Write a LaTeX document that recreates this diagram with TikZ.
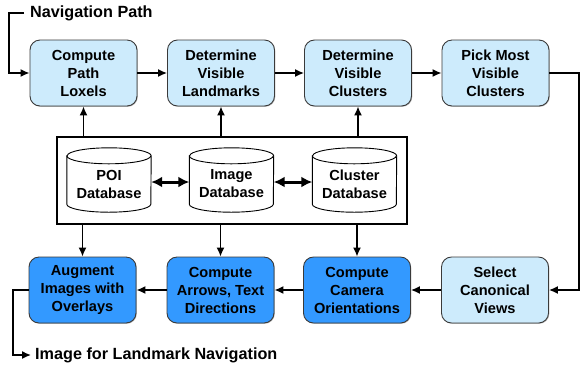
\documentclass[tikz,border=0pt]{standalone}
\usepackage{fontspec}
\setmainfont{Liberation Sans}
\usetikzlibrary{arrows.meta,shadows}
\definecolor{lightbox}{HTML}{CDEBFC}
\definecolor{darkbox}{HTML}{3399FF}
\definecolor{boxedge}{HTML}{3A3A3A}
\begin{document}
\begin{tikzpicture}[x=1pt,y=-1pt,
  proc/.style={draw=boxedge, line width=0.9pt, rounded corners=10pt,
    minimum width=107pt, minimum height=66pt, align=center, inner sep=1pt,
    font=\fontsize{14.6}{18}\selectfont\bfseries,
    drop shadow={shadow xshift=0.8pt, shadow yshift=-0.8pt, fill=black!45, opacity=0.6}},
  lightp/.style={proc, fill=lightbox},
  darkp/.style={proc, fill=darkbox},
  arr/.style={line width=1.5pt, -{Latex[length=9pt,width=8pt]}},
  dbarr/.style={line width=3pt, {Latex[length=11pt,width=11pt]}-{Latex[length=11pt,width=11pt]}},
  dbbox/.style={minimum width=84pt, minimum height=64pt, inner sep=0pt},
  dbtext/.style={align=center, inner sep=0pt, font=\fontsize{14.6}{18}\selectfont\bfseries},
  cyl/.style={draw, line width=0.9pt, fill=white},
  lbl/.style={inner sep=0pt, anchor=west, font=\fontsize{16.2}{19}\selectfont\bfseries}
]
\useasboundingbox (0,0) rectangle (580,368);

% top row
\node[lightp] (p1) at (83.5,73) {Compute\\Path\\Loxels};
\node[lightp] (p2) at (221,73) {Determine\\Visible\\Landmarks};
\node[lightp] (p3) at (358,73) {Determine\\Visible\\Clusters};
\node[lightp] (p4) at (495.5,73) {Pick Most\\Visible\\Clusters};

% bottom row
\node[darkp] (b4) at (82.5,290) {Augment\\Images with\\Overlays};
\node[darkp] (b3) at (220.5,290) {Compute\\Arrows, Text\\Directions};
\node[darkp] (b2) at (357,290) {Compute\\Camera\\Orientations};
\node[lightp] (b1) at (495,290) {Select\\Canonical\\Views};

% database container
\node[draw, line width=2pt, minimum width=350pt, minimum height=87pt, inner sep=0pt] (cont) at (232,180.5) {};

% cylinders
\foreach \n/\x in {db1/109, db2/231.5, db3/354.5}{
  \node[dbbox] (\n) at (\x,180) {};
  \draw[cyl] ([yshift=-8pt]\n.north west) -- ([yshift=8pt]\n.south west)
     arc[start angle=180, end angle=360, x radius=42pt, y radius=8pt]
     -- ([yshift=-8pt]\n.north east)
     arc[start angle=0, end angle=180, x radius=42pt, y radius=8pt] -- cycle;
  \draw[line width=0.9pt] ([yshift=-8pt]\n.north west)
     arc[start angle=180, end angle=360, x radius=42pt, y radius=8pt];
}
\node[dbtext] (db1t) at ([yshift=-4pt]db1.center) {POI\\Database};
\node[dbtext] (db2t) at ([yshift=-4pt]db2.center) {Image\\Database};
\node[dbtext] (db3t) at ([yshift=-4pt]db3.center) {Cluster\\Database};

\draw[dbarr] ([yshift=-2pt]db1.east) -- ([yshift=-2pt]db2.west);
\draw[dbarr] ([yshift=-2pt]db2.east) -- ([yshift=-2pt]db3.west);

% container to processes
\draw[arr] (p1.south |- cont.north) -- (p1.south);
\draw[arr] (p2.south |- cont.north) -- (p2.south);
\draw[arr] (p3.south |- cont.north) -- (p3.south);
\draw[arr] (b4.north |- cont.south) -- (b4.north);
\draw[arr] (b3.north |- cont.south) -- (b3.north);
\draw[arr] (b2.north |- cont.south) -- (b2.north);

% flow
\draw[arr] (p1) -- (p2);
\draw[arr] (p2) -- (p3);
\draw[arr] (p3) -- (p4);
\coordinate (rc) at (579,73);
\draw[arr] (p4.east) -- (rc) |- (b1.east);
\draw[arr] (b1) -- (b2);
\draw[arr] (b2) -- (b3);
\draw[arr] (b3) -- (b4);

% input
\node[lbl] (nav) at (30,13) {Navigation Path};
\coordinate (nav0) at (24,13);
\coordinate (nav1) at (9,13);
\draw[arr] (nav0) -- (nav1) |- (p1.west);

% output
\node[lbl] (out) at (35,355) {Image for Landmark Navigation};
\coordinate (out0) at (13,290);
\draw[arr] (b4.west) -- (out0) |- ([xshift=-4pt]out.west);
\end{tikzpicture}
\end{document}
